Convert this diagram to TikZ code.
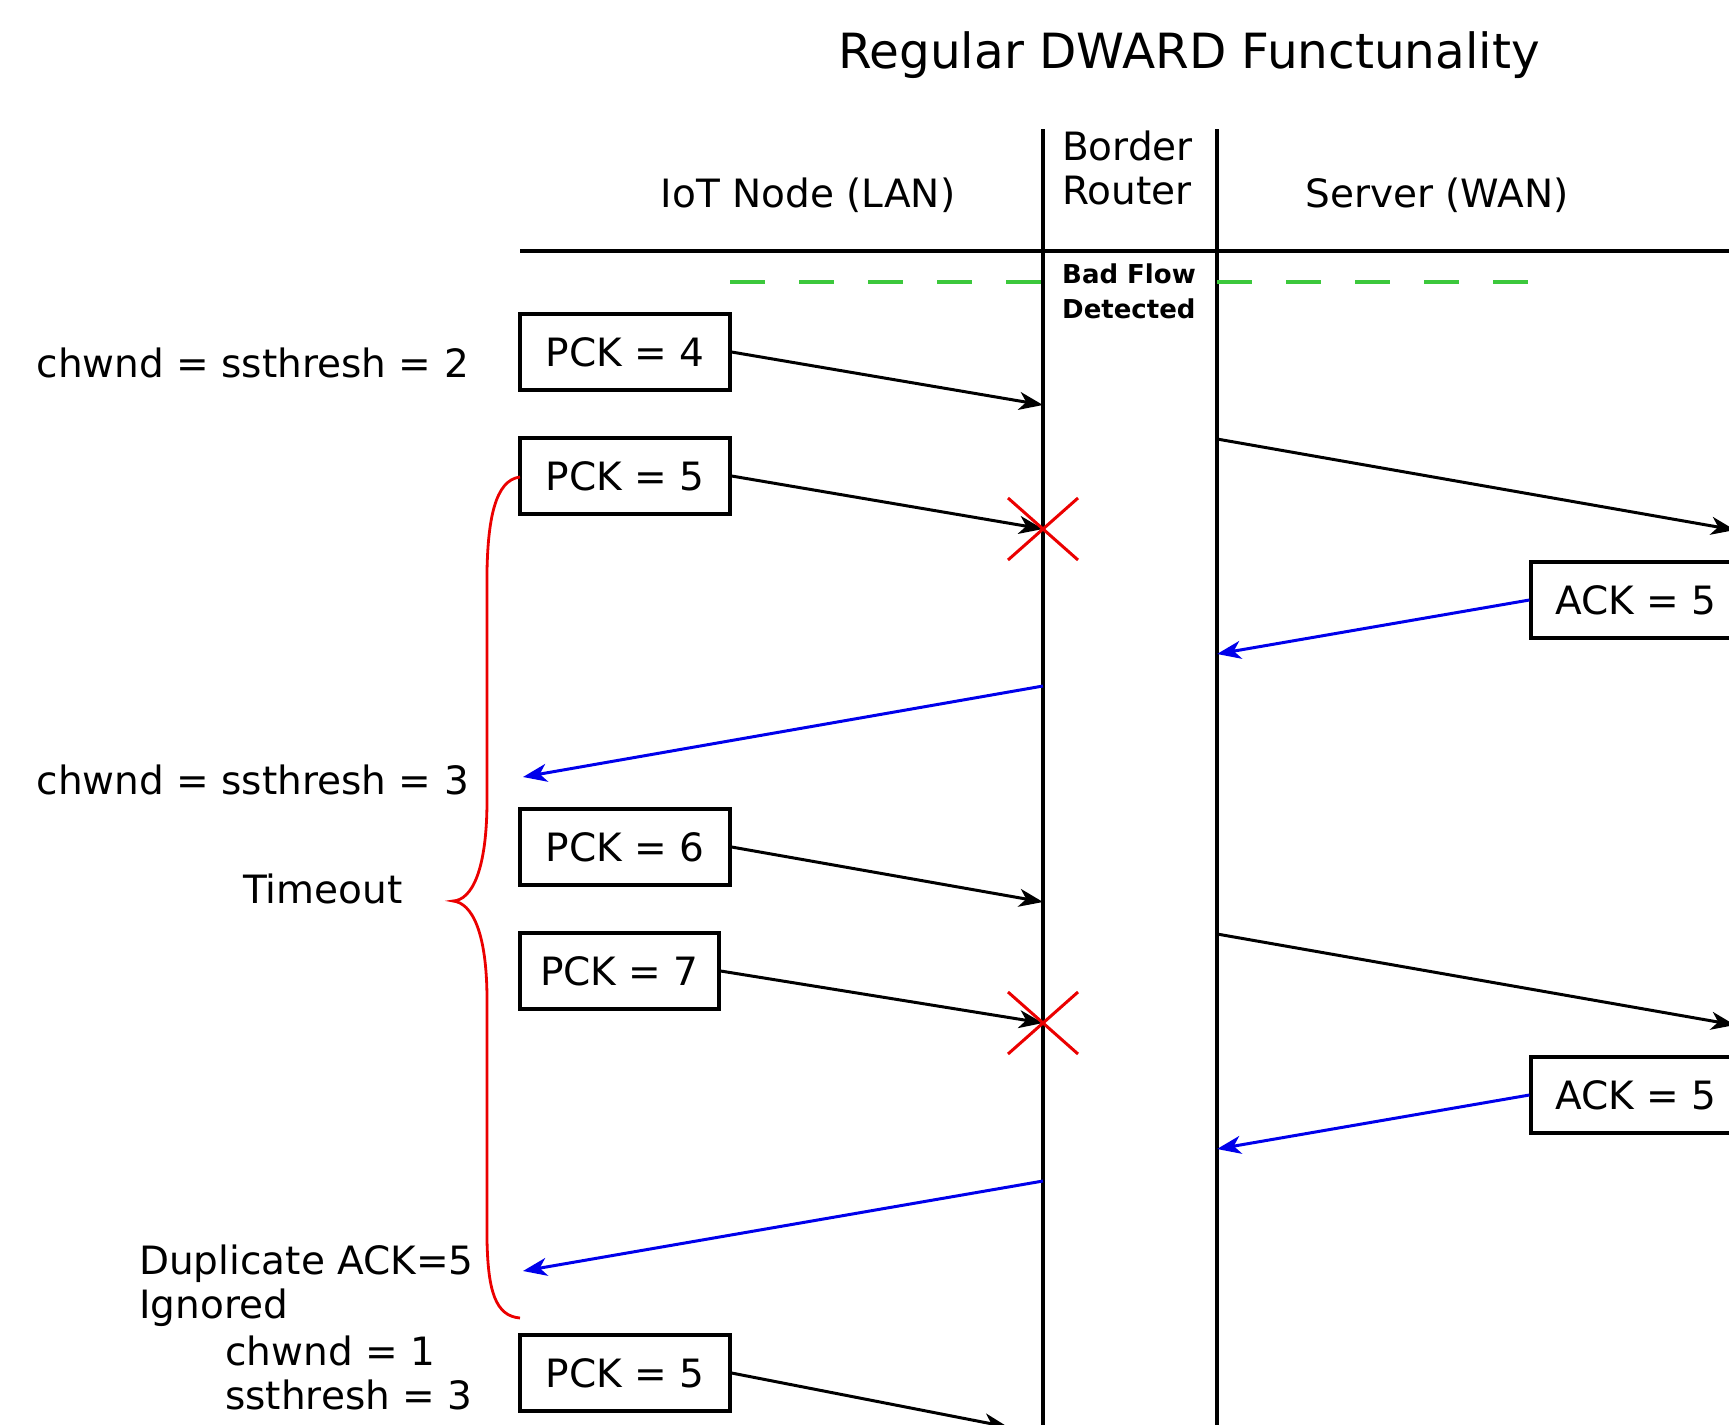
\documentclass[tikz,border=0pt]{standalone}
\usepackage{fontspec}
\setmainfont{DejaVu Sans}
\usetikzlibrary{arrows.meta}
\definecolor{flowgreen}{RGB}{60,200,60}
\definecolor{ackblue}{RGB}{0,0,235}
\definecolor{lossred}{RGB}{235,0,0}
\begin{document}
\begin{tikzpicture}[x=1pt,y=-1pt,
  lbl/.style={inner sep=0pt, font=\fontsize{39}{44}\selectfont},
  pbox/.style={draw, line width=3.2pt, minimum height=76pt, inner sep=0pt, font=\fontsize{39}{44}\selectfont},
  msg/.style={line width=3pt, -{Stealth[length=24pt,width=18pt,inset=7pt]}},
  ackmsg/.style={msg, ackblue},
  life/.style={line width=3.2pt},
  flow/.style={line width=3.4pt, flowgreen, dash pattern=on 35pt off 34pt},
  lost/.style={lossred, line width=3pt},
  brace/.style={lossred, line width=2.8pt},
]
\useasboundingbox (0,0) rectangle (1729,1424);
\clip (0,0) rectangle (1729,1424);

% title and headers
\node[lbl, font=\fontsize{48.5}{56}\selectfont, anchor=base] (title) at (1189,68) {Regular DWARD Functunality};
\node[lbl, anchor=base] (iot) at (808,207) {IoT Node (LAN)};
\node[lbl, anchor=base west] (brA) at (1062,160) {Border};
\node[lbl, anchor=base west] (brB) at (1062,204) {Router};
\node[lbl, anchor=base] (srv) at (1437,207) {Server (WAN)};
\node[lbl, font=\fontsize{26}{30}\selectfont\bfseries, anchor=base west] (bfA) at (1062,283) {Bad Flow};
\node[lbl, font=\fontsize{26}{30}\selectfont\bfseries, anchor=base west] (bfB) at (1062,318) {Detected};

% lifelines and header rule
\coordinate (lanT) at (1043,129);
\coordinate (lanB) at (1043,1440);
\coordinate (wanT) at (1217,129);
\coordinate (wanB) at (1217,1440);
\coordinate (hL) at (520,251);
\coordinate (hR) at (1740,251);
\draw[life] (lanT) -- (lanB);
\draw[life] (wanT) -- (wanB);
\draw[life] (hL) -- (hR);

% bad flow detection line
\coordinate (gA) at (730,282);
\coordinate (gB) at (1043,282);
\coordinate (gC) at (1217,282);
\coordinate (gD) at (1531,282);
\draw[flow] (gA) -- (gB);
\draw[flow] (gC) -- (gD);

% packet boxes
\node[pbox, minimum width=210pt] (p4) at (625,352) {PCK = 4};
\node[pbox, minimum width=210pt] (p5) at (625,476) {PCK = 5};
\node[pbox, minimum width=210pt] (p6) at (625,847) {PCK = 6};
\node[pbox, minimum width=199pt] (p7) at (619.5,971) {PCK = 7};
\node[pbox, minimum width=210pt] (p5b) at (625,1373) {PCK = 5};
\node[pbox, minimum width=210pt] (ackA) at (1636,600) {ACK = 5};
\node[pbox, minimum width=210pt] (ackB) at (1636,1095) {ACK = 5};

% end points
\coordinate (e1) at (1043,405);
\coordinate (x1) at (1043,529);
\coordinate (s1) at (1217,439);
\coordinate (d1) at (1735,530);
\coordinate (e2) at (1217,654);
\coordinate (s2) at (1043,686);
\coordinate (d2) at (523,777);
\coordinate (e3) at (1043,902);
\coordinate (s3) at (1217,934);
\coordinate (d3) at (1735,1025);
\coordinate (x2) at (1043,1023);
\coordinate (e4) at (1217,1149);
\coordinate (s4) at (1043,1181);
\coordinate (d4) at (523,1271);
\coordinate (e5) at (1008,1427);

% messages
\draw[msg] (p4.east) -- (e1);
\draw[msg] (p5.east) -- (x1);
\draw[msg] (s1) -- (d1);
\draw[ackmsg] (ackA.west) -- (e2);
\draw[ackmsg] (s2) -- (d2);
\draw[msg] (p6.east) -- (e3);
\draw[msg] (s3) -- (d3);
\draw[msg] (p7.east) -- (x2);
\draw[ackmsg] (ackB.west) -- (e4);
\draw[ackmsg] (s4) -- (d4);
\draw[msg] (p5b.east) -- (e5);

% losses
\draw[lost] (x1) ++(-35,-31) -- ++(70,62);
\draw[lost] (x1) ++(-35,31) -- ++(70,-62);
\draw[lost] (x2) ++(-35,-31) -- ++(70,62);
\draw[lost] (x2) ++(-35,31) -- ++(70,-62);

% timeout brace
\draw[brace] (520,477) .. controls (495,480) and (488,520) .. (487,571)
  -- (487,800) .. controls (487,870) and (472,900) .. (453,901)
  .. controls (472,903) and (487,932) .. (487,1000)
  -- (487,1240) .. controls (488,1290) and (495,1316) .. (520,1318);

% left labels
\node[lbl, anchor=base east] (cw2) at (469,377) {chwnd = ssthresh = 2};
\node[lbl, anchor=base east] (cw3) at (469,794) {chwnd = ssthresh = 3};
\node[lbl, anchor=base west] (tmo) at (243,903) {Timeout};
\node[lbl, anchor=base west] (dupA) at (139,1274) {Duplicate ACK=5};
\node[lbl, anchor=base west] (dupB) at (139,1318) {Ignored};
\node[lbl, anchor=base west] (cw1) at (225,1365) {chwnd = 1};
\node[lbl, anchor=base west] (ss3) at (225,1409) {ssthresh = 3};
\end{tikzpicture}
\end{document}
